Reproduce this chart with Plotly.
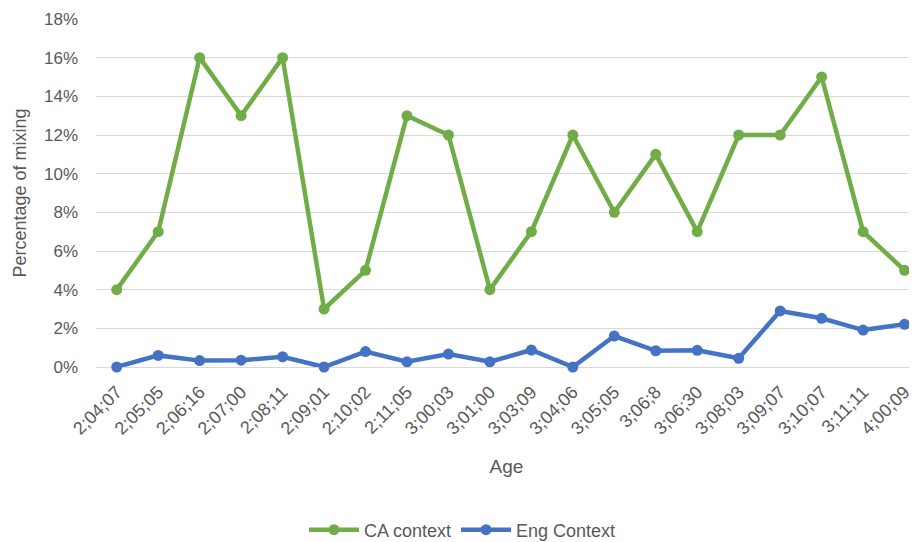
import plotly.graph_objects as go

ages = ["2;04;07", "2;05;05", "2;06;16", "2;07;00", "2;08;11", "2;09;01", "2;10;02",
        "2;11;05", "3;00;03", "3;01;00", "3;03;09", "3;04;06", "3;05;05", "3;06;8",
        "3;06;30", "3;08;03", "3;09;07", "3;10;07", "3;11;11", "4;00;09"]
ca_context = [0.04, 0.07, 0.16, 0.13, 0.16, 0.03, 0.05, 0.13, 0.12, 0.04,
              0.07, 0.12, 0.08, 0.11, 0.07, 0.12, 0.12, 0.15, 0.07, 0.05]
eng_context = [0.0, 0.006, 0.0033, 0.0035, 0.0053, 0.0, 0.008, 0.0027, 0.0067, 0.0027,
               0.0088, 0.0, 0.016, 0.0084, 0.0086, 0.0045, 0.029, 0.0252, 0.0191, 0.0221]

grey = "#595959"
font = "Liberation Sans, Arial, sans-serif"

fig = go.Figure()
fig.add_trace(go.Scatter(x=ages, y=ca_context, name="CA context", mode="lines+markers",
                         line=dict(color="#70AD47", width=4.5),
                         marker=dict(size=11, color="#70AD47"), cliponaxis=False))
fig.add_trace(go.Scatter(x=ages, y=eng_context, name="Eng Context", mode="lines+markers",
                         line=dict(color="#4472C4", width=4.5),
                         marker=dict(size=11, color="#4472C4"), cliponaxis=False))

# page body has an 8px margin, so the figure is sized to fit the window
fig.update_layout(
    width=909, height=534,
    margin=dict(l=88, r=0, t=11, b=175, autoexpand=False),
    plot_bgcolor="white", paper_bgcolor="white",
    font=dict(family=font, size=16, color=grey),
    showlegend=True,
    legend=dict(orientation="h", x=0.5, xanchor="center", xref="container",
                y=0.0225, yanchor="middle", yref="container",
                font=dict(size=18, color=grey), itemwidth=50),
    xaxis=dict(
        type="category", range=[-0.5, 19.3], tickangle=-45, showgrid=False,
        showline=False, ticks="", ticklabelstandoff=10,
        tickfont=dict(size=18, color=grey), automargin=False,
        title=dict(text="Age", font=dict(size=19, color=grey), standoff=22),
    ),
    yaxis=dict(
        range=[0, 0.18], dtick=0.02, tickformat=".0%", showgrid=True,
        gridcolor="#D9D9D9", gridwidth=1, zeroline=True, zerolinecolor="#D9D9D9",
        zerolinewidth=1, showline=False, ticks="", ticklabelstandoff=17, automargin=False,
        tickfont=dict(size=17, color=grey),
        title=dict(text="Percentage of mixing", font=dict(size=18, color=grey), standoff=12),
    ),
)

fig.write_html("out.html")
